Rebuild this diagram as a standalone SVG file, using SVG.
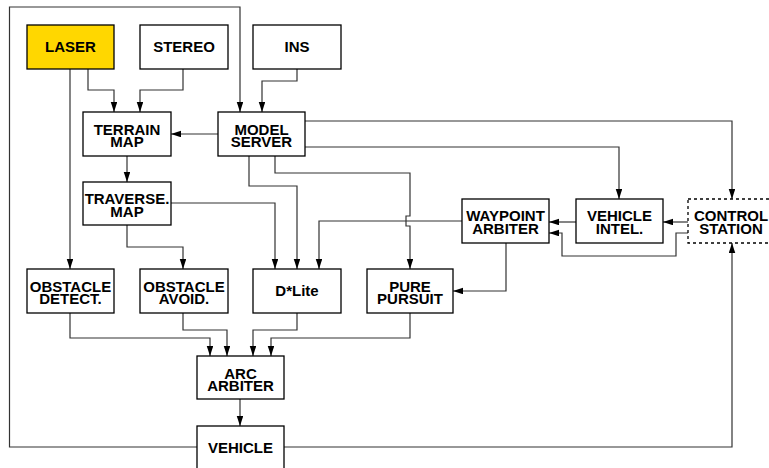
<svg xmlns="http://www.w3.org/2000/svg" width="769" height="468" viewBox="0 0 769 468">
<style>
.box{fill:#fff;stroke:#000;stroke-width:1.3}
.dash{stroke-dasharray:3 3}
.laser{fill:#FFD700}
text{font-family:"Liberation Sans",Arial,sans-serif;font-weight:bold;font-size:15px;text-anchor:middle;fill:#000}
.c path{fill:none;stroke:#333;stroke-width:1.2}
.c path.a{marker-end:url(#ah)}
</style>
<defs>
<marker id="ah" markerUnits="userSpaceOnUse" markerWidth="10" markerHeight="7" refX="10" refY="3.25" orient="auto">
<path d="M0,0 L10,3.25 L0,6.5 z" fill="#000"/>
</marker>
</defs>
<rect width="769" height="468" fill="#fff"/>
<g class="c" id="connectors">
<path class="a" d="M197,447 H9.5 V7 H240 V112"/>
<path class="a" d="M284,447 H732 V243"/>
<path class="a" d="M88,69 V90 H114 V112"/>
<path class="a" d="M183,69 V90 H140 V112"/>
<path class="a" d="M297,69 V81 H262 V112"/>
<path class="a" d="M218,134 H171"/>
<path class="a" d="M305,121 H732 V199"/>
<path class="a" d="M305,147 H619 V199"/>
<path class="a" d="M249,156 V186 H297 V269"/>
<path class="a" d="M275,156 V173 H410 V216 H406 V226 H410 V269"/>
<path class="a" d="M127,156 V182"/>
<path class="a" d="M70,69 V269"/>
<path class="a" d="M127,225 V247 H183 V269"/>
<path class="a" d="M171,203 H275 V269"/>
<path class="a" d="M462,221 H319 V269"/>
<path class="a" d="M576,222 H549"/>
<path class="a" d="M688,222 H663"/>
<path class="a" d="M688,233 H676 V256 H562 V233 H549"/>
<path class="a" d="M506,243 V291 H453"/>
<path class="a" d="M70,313 V338 H210 V356"/>
<path class="a" d="M183,313 V330 H227 V356"/>
<path class="a" d="M297,313 V330 H253 V356"/>
<path class="a" d="M410,313 V338 H271 V356"/>
<path class="a" d="M240,399 V426"/>
</g>
<g id="laser"><rect class="box laser" x="27" y="25" width="87" height="44"/><text x="70.5" y="52">LASER</text></g>
<g id="stereo"><rect class="box" x="140" y="25" width="88" height="44"/><text x="184" y="52">STEREO</text></g>
<g id="ins"><rect class="box" x="253" y="25" width="88" height="44"/><text x="297" y="52">INS</text></g>
<g id="terrain-map"><rect class="box" x="83" y="112" width="88" height="44"/><text x="127" y="134.5">TERRAIN</text><text x="127" y="147">MAP</text></g>
<g id="model-server"><rect class="box" x="218" y="112" width="87" height="44"/><text x="261.5" y="134.5">MODEL</text><text x="261.5" y="147">SERVER</text></g>
<g id="traverse-map"><rect class="box" x="83" y="182" width="88" height="43"/><text x="127" y="204">TRAVERSE.</text><text x="127" y="216.5">MAP</text></g>
<g id="obstacle-detect"><rect class="box" x="27" y="269" width="87" height="44"/><text x="70.5" y="291.5">OBSTACLE</text><text x="70.5" y="304">DETECT.</text></g>
<g id="obstacle-avoid"><rect class="box" x="140" y="269" width="88" height="44"/><text x="184" y="291.5">OBSTACLE</text><text x="184" y="304">AVOID.</text></g>
<g id="dlite"><rect class="box" x="253" y="269" width="88" height="44"/><text x="297" y="296">D*Lite</text></g>
<g id="pure-pursuit"><rect class="box" x="367" y="269" width="86" height="44"/><text x="410" y="291.5">PURE</text><text x="410" y="304">PURSUIT</text></g>
<g id="waypoint-arbiter"><rect class="box" x="462" y="199" width="87" height="44"/><text x="505.5" y="221">WAYPOINT</text><text x="505.5" y="233.5">ARBITER</text></g>
<g id="vehicle-intel"><rect class="box" x="576" y="199" width="87" height="44"/><text x="619.5" y="221">VEHICLE</text><text x="619.5" y="233.5">INTEL.</text></g>
<g id="control-station"><rect class="box dash" x="688" y="199" width="87" height="44"/><text x="731" y="221">CONTROL</text><text x="731" y="233.5">STATION</text></g>
<g id="arc-arbiter"><rect class="box" x="197" y="356" width="87" height="43"/><text x="240.5" y="378.5">ARC</text><text x="240.5" y="391">ARBITER</text></g>
<g id="vehicle"><rect class="box" x="197" y="426" width="87" height="44"/><text x="240.5" y="453">VEHICLE</text></g>
</svg>
